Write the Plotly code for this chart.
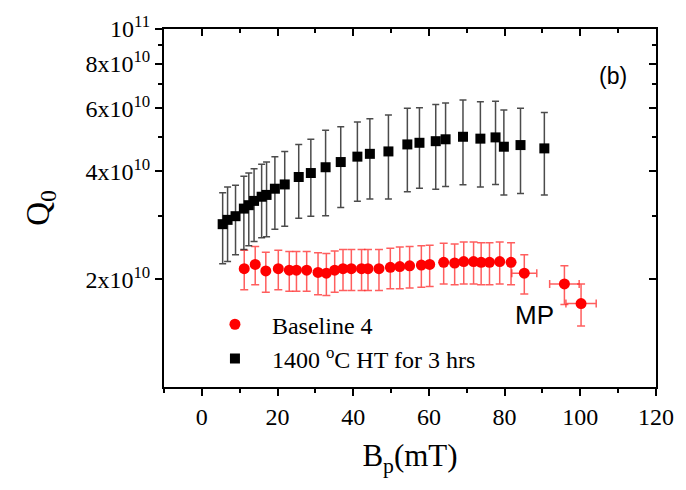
import plotly.graph_objects as go

# ---- data ----
base_x = [11.2, 14.1, 16.9, 20.2, 23.1, 25.0, 27.7, 30.7, 32.9, 35.1, 37.3, 39.5, 42.2, 43.9,
          46.8, 49.8, 52.3, 54.9, 58.0, 60.2, 63.9, 66.8, 69.2, 71.8, 73.8, 76.0, 78.7, 81.7,
          85.2, 95.8, 100.2]
base_q = [2.14, 2.20, 2.11, 2.14, 2.12, 2.12, 2.12, 2.09, 2.08, 2.12, 2.14, 2.14, 2.14, 2.14,
          2.14, 2.16, 2.17, 2.18, 2.19, 2.20, 2.23, 2.22, 2.24, 2.24, 2.23, 2.23, 2.24, 2.23,
          2.08, 1.94, 1.71]  # x1e10
base_qerr = [0.27, 0.27, 0.27, 0.27, 0.27, 0.27, 0.27, 0.28, 0.28, 0.28, 0.28, 0.28, 0.28, 0.28,
             0.28, 0.28, 0.29, 0.29, 0.29, 0.29, 0.29, 0.29, 0.30, 0.30, 0.30, 0.30, 0.30, 0.30,
             0.26, 0.24, 0.23]  # x1e10
base_xerr = [0] * 28 + [3.3, 3.9, 4.0]

ht_x = [5.5, 6.8, 8.9, 11.1, 12.4, 13.8, 15.8, 17.1, 19.3, 21.9, 25.6, 28.8, 32.7, 36.7,
        41.1, 44.4, 49.3, 54.3, 57.5, 61.8, 64.4, 69.0, 73.6, 77.6, 79.8, 84.2, 90.5]
ht_q = [2.85, 2.93, 3.00, 3.15, 3.22, 3.31, 3.40, 3.44, 3.58, 3.68, 3.86, 3.96, 4.11, 4.25,
        4.40, 4.48, 4.55, 4.76, 4.81, 4.86, 4.92, 5.00, 4.94, 4.98, 4.69, 4.74, 4.64]  # x1e10
ht_qerr = [0.64, 0.69, 0.66, 0.73, 0.74, 0.76, 0.79, 0.81, 0.82, 0.87, 0.90, 0.96, 1.10, 1.08,
           1.10, 1.13, 1.20, 1.25, 1.22, 1.29, 1.29, 1.33, 1.32, 1.30, 1.25, 1.27, 1.20]  # x1e10

y_tickvals = [2e10, 4e10, 6e10, 8e10, 1e11]
y_ticktext = ["2x10<sup>10</sup>", "4x10<sup>10</sup>", "6x10<sup>10</sup>",
              "8x10<sup>10</sup>", "10<sup>11</sup>"]
y_minor = [3e10, 5e10, 7e10, 9e10]

E = 1e10
serif = "Liberation Serif"
sans = "Liberation Sans"

fig = go.Figure()

fig.add_trace(go.Scatter(
    x=base_x, y=[v * E for v in base_q], mode="markers", name="Baseline 4",
    marker=dict(symbol="circle", size=11, color="#ff0000"),
    error_y=dict(type="data", array=[v * E for v in base_qerr], color="rgba(255,40,40,0.75)",
                 thickness=1.5, width=4),
    error_x=dict(type="data", array=base_xerr, color="rgba(255,40,40,0.75)",
                 thickness=1.5, width=4),
))

fig.add_trace(go.Scatter(
    x=ht_x, y=[v * E for v in ht_q], mode="markers", name="1400 <sup>o</sup>C HT for 3 hrs",
    marker=dict(symbol="square", size=10, color="#000000"),
    error_y=dict(type="data", array=[v * E for v in ht_qerr], color="rgba(30,30,30,0.8)",
                 thickness=1.5, width=3.5),
))

# helper trace for inward ticks on top/right axes
fig.add_trace(go.Scatter(x=[None], y=[None], xaxis="x2", yaxis="y2", showlegend=False,
                         hoverinfo="skip"))

fig.update_layout(
    width=686, height=490,
    margin=dict(l=164, r=29, t=24, b=103),
    paper_bgcolor="white", plot_bgcolor="white",
    font=dict(family=serif, size=22, color="black"),
    showlegend=True,
    legend=dict(x=0.069, y=0.237, xanchor="left", yanchor="top", bgcolor="rgba(0,0,0,0)",
                itemwidth=64,
                font=dict(family=serif, size=24, color="black"), tracegroupgap=0),
    xaxis=dict(range=[-10, 120], tickmode="linear", tick0=0, dtick=20, ticks="outside",
               ticklen=7, tickwidth=2, tickcolor="black", showline=True, linewidth=2,
               linecolor="black", mirror=True, showgrid=False, zeroline=False,
               minor=dict(dtick=10, tick0=0, ticks="outside", ticklen=4, tickwidth=2,
                          tickcolor="black", showgrid=False),
               tickfont=dict(family=serif, size=24),
               title=dict(text="B<sub>p</sub>(mT)", font=dict(family=serif, size=31),
                          standoff=16)),
    yaxis=dict(type="log", range=[10, 11], tickmode="array", tickvals=y_tickvals,
               ticktext=y_ticktext, ticks="outside", ticklen=7, tickwidth=2,
               tickcolor="black", showline=True, linewidth=2, linecolor="black",
               mirror=True, showgrid=False, zeroline=False,
               minor=dict(tickmode="array", tickvals=y_minor, ticks="outside", ticklen=4,
                          tickwidth=2, tickcolor="black", showgrid=False),
               tickfont=dict(family=serif, size=24),
               title=dict(text="Q<sub>0</sub>", font=dict(family=serif, size=33),
                          standoff=26)),
    xaxis2=dict(overlaying="x", side="top", range=[-10, 120], tickmode="linear", tick0=0,
                dtick=20, ticks="inside", ticklen=7, tickwidth=2, tickcolor="black",
                showticklabels=False, showline=False, showgrid=False, zeroline=False,
                minor=dict(dtick=10, tick0=0, ticks="inside", ticklen=4, tickwidth=2,
                           tickcolor="black", showgrid=False)),
    yaxis2=dict(overlaying="y", side="right", type="log", range=[10, 11], tickmode="array",
                tickvals=y_tickvals, ticks="inside", ticklen=7, tickwidth=2,
                tickcolor="black", showticklabels=False, showline=False, showgrid=False,
                zeroline=False,
                minor=dict(tickmode="array", tickvals=y_minor, ticks="inside", ticklen=4,
                           tickwidth=2, tickcolor="black", showgrid=False)),
    annotations=[
        dict(text="(b)", xref="paper", yref="paper", x=0.913, y=0.868, showarrow=False,
             xanchor="center", yanchor="middle",
             font=dict(family=sans, size=23, color="black")),
        dict(text="MP", xref="paper", yref="paper", x=0.7525, y=0.201, showarrow=False,
             xanchor="center", yanchor="middle",
             font=dict(family=sans, size=26, color="black")),
    ],
)

fig.write_html("out.html")
